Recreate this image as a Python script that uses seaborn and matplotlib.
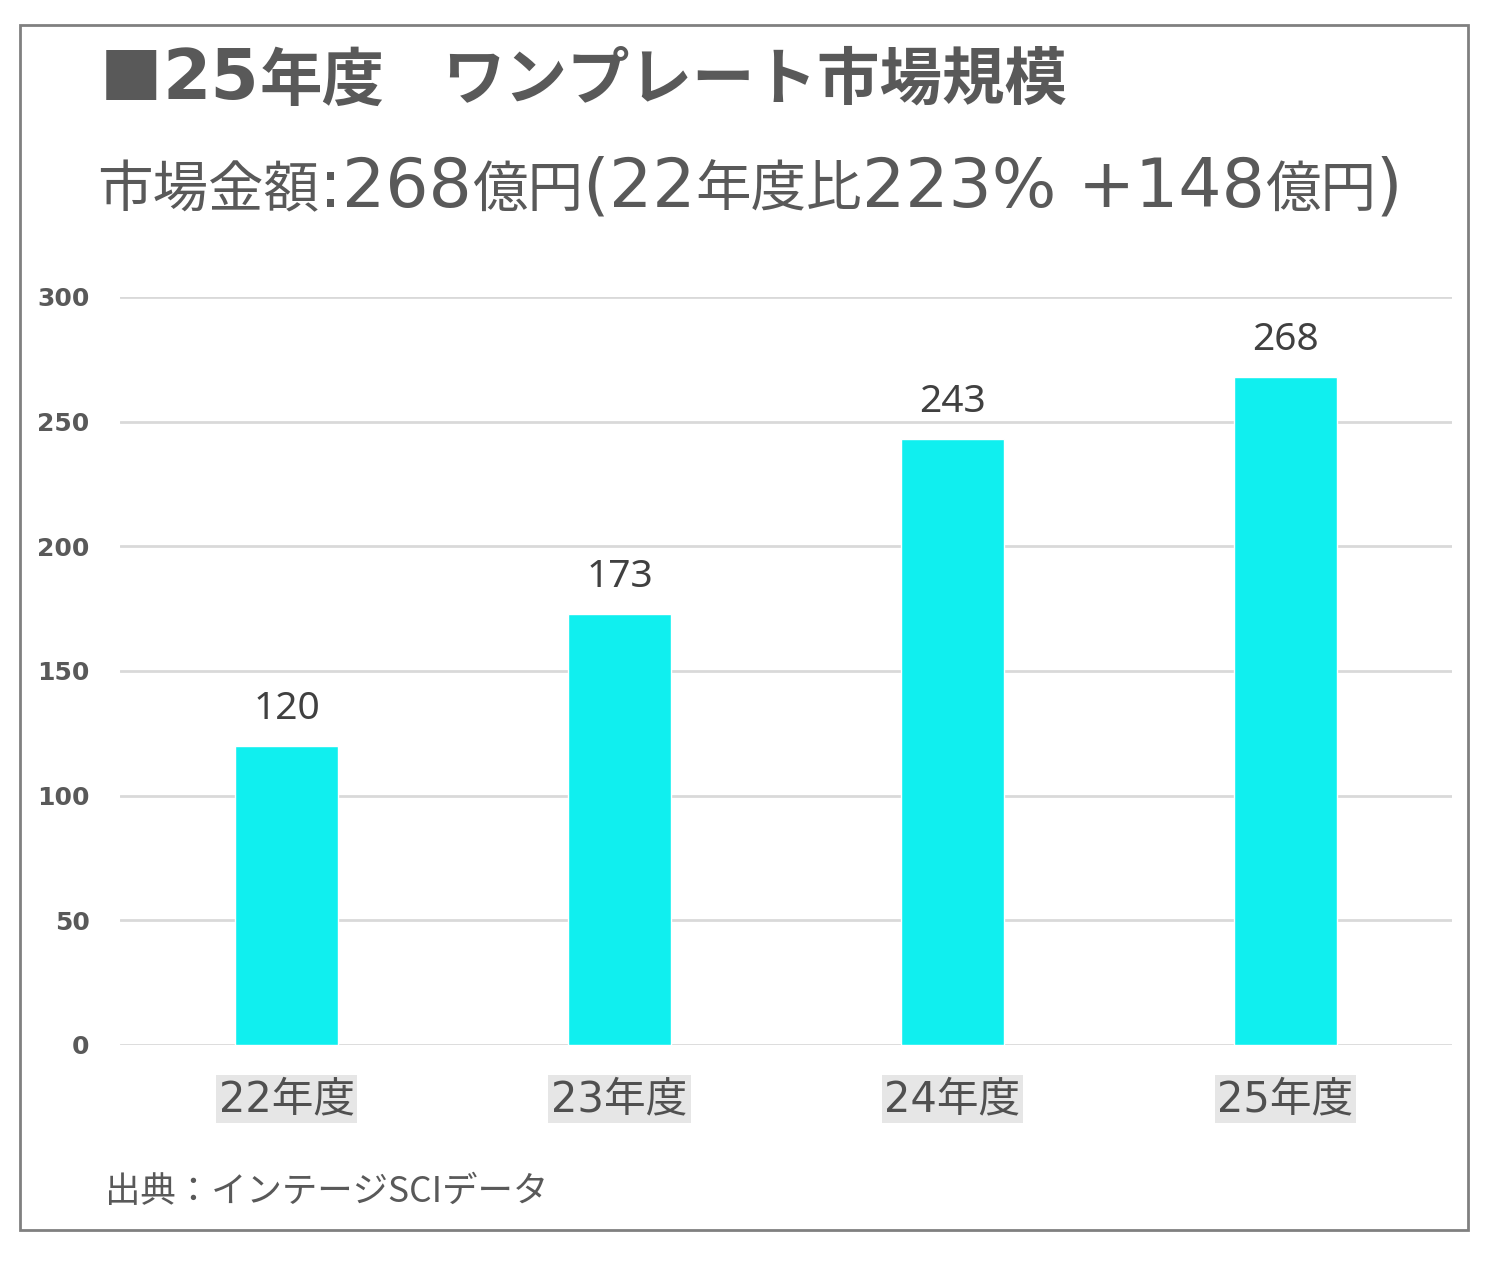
import matplotlib
matplotlib.use("Agg")
import matplotlib.pyplot as plt
import seaborn as sns
import pandas as pd
from matplotlib.patches import Rectangle
from matplotlib.offsetbox import TextArea, HPacker, AnchoredOffsetbox

categories = ["22年度", "23年度", "24年度", "25年度"]
values = [120, 173, 243, 268]
yticks = [0, 50, 100, 150, 200, 250, 300]

title_a = ["■", "25", "年度"]
title_b = "ワンプレート市場規模"
subtitle_parts = ["市場金額", ":", "268", "億円", "(", "22", "年度比", "223% +148", "億円", ")"]
source = "出典：インテージSCIデータ"

sns.set_theme(style="white")
plt.rcParams['font.family'] = ['Noto Sans CJK JP', 'DejaVu Sans']

W, H = 1500, 1282
fig = plt.figure(figsize=(W / 100, H / 100), dpi=100)
fig.patch.set_facecolor("white")

ax = fig.add_axes([120 / W, 1 - 1045 / H, (1452 - 120) / W, (1045 - 297) / H])
df = pd.DataFrame({"cat": categories, "val": values})
sns.barplot(data=df, x="cat", y="val", color="#10EFEF", saturation=1, width=0.31, ax=ax)

ax.set_xlim(-0.5, 3.5)
ax.set_ylim(0, 300)
ax.set_yticks(yticks)
ax.set_yticklabels([str(t) for t in yticks], fontsize=18, fontweight="bold",
                   color="#595959", family=["DejaVu Sans"])
ax.tick_params(axis="y", length=0, pad=22)
ax.tick_params(axis="x", length=0, pad=24)
ax.set_xlabel("")
ax.set_ylabel("")
ax.yaxis.grid(True, color="#d9d9d9", linewidth=2)
ax.set_axisbelow(True)
for s in ax.spines.values():
    s.set_visible(False)

for lbl in ax.get_xticklabels():
    lbl.set_fontsize(30)
    lbl.set_color("#505050")
    lbl.set_family(["DejaVu Sans", "Noto Sans CJK JP"])
    lbl.set_bbox(dict(facecolor="#e6e6e6", edgecolor="none", pad=2))

for c in ax.containers:
    ax.bar_label(c, labels=[str(v) for v in values], padding=13, fontsize=28,
                 color="#404040", family=["Noto Sans"])


def rich_text(x, y, parts):
    boxes = [TextArea(s, textprops=p) for s, p in parts]
    pack = HPacker(children=boxes, align="baseline", pad=0, sep=0)
    anch = AnchoredOffsetbox(loc="center left", child=pack, pad=0, borderpad=0,
                             frameon=False, bbox_to_anchor=(x, y),
                             bbox_transform=fig.transFigure)
    fig.add_artist(anch)


GREY = "#595959"
cjk_t = dict(fontsize=45, fontweight="bold", color=GREY, family=["Noto Sans CJK JP"])
dig_t = dict(fontsize=50, fontweight="bold", color=GREY, family=["DejaVu Sans"])
rich_text(100 / W, 1 - 80 / H, [(title_a[0], cjk_t), (title_a[1], dig_t), (title_a[2], cjk_t)])
fig.text(442 / W, 1 - 80 / H, title_b, fontsize=45, fontweight="bold",
         color=GREY, ha="left", va="center", family=["Noto Sans CJK JP"])

cjk_s = dict(fontsize=40, color=GREY, family=["Noto Sans CJK JP"])
dig_s = dict(fontsize=49, color=GREY, family=["DejaVu Sans"])
sub_styles = [cjk_s, dig_s, dig_s, cjk_s, dig_s, dig_s, cjk_s, dig_s, cjk_s, dig_s]
rich_text(97 / W, 1 - 188 / H, list(zip(subtitle_parts, sub_styles)))

fig.text(105 / W, 1 - 1192 / H, source, fontsize=25.5,
         color=GREY, ha="left", va="center")

fig.add_artist(Rectangle((20 / W, 1 - 1230 / H), (1468 - 20) / W, (1230 - 25) / H,
                         transform=fig.transFigure, fill=False,
                         edgecolor="#808080", linewidth=2))

fig.savefig("out.png", dpi=100)
